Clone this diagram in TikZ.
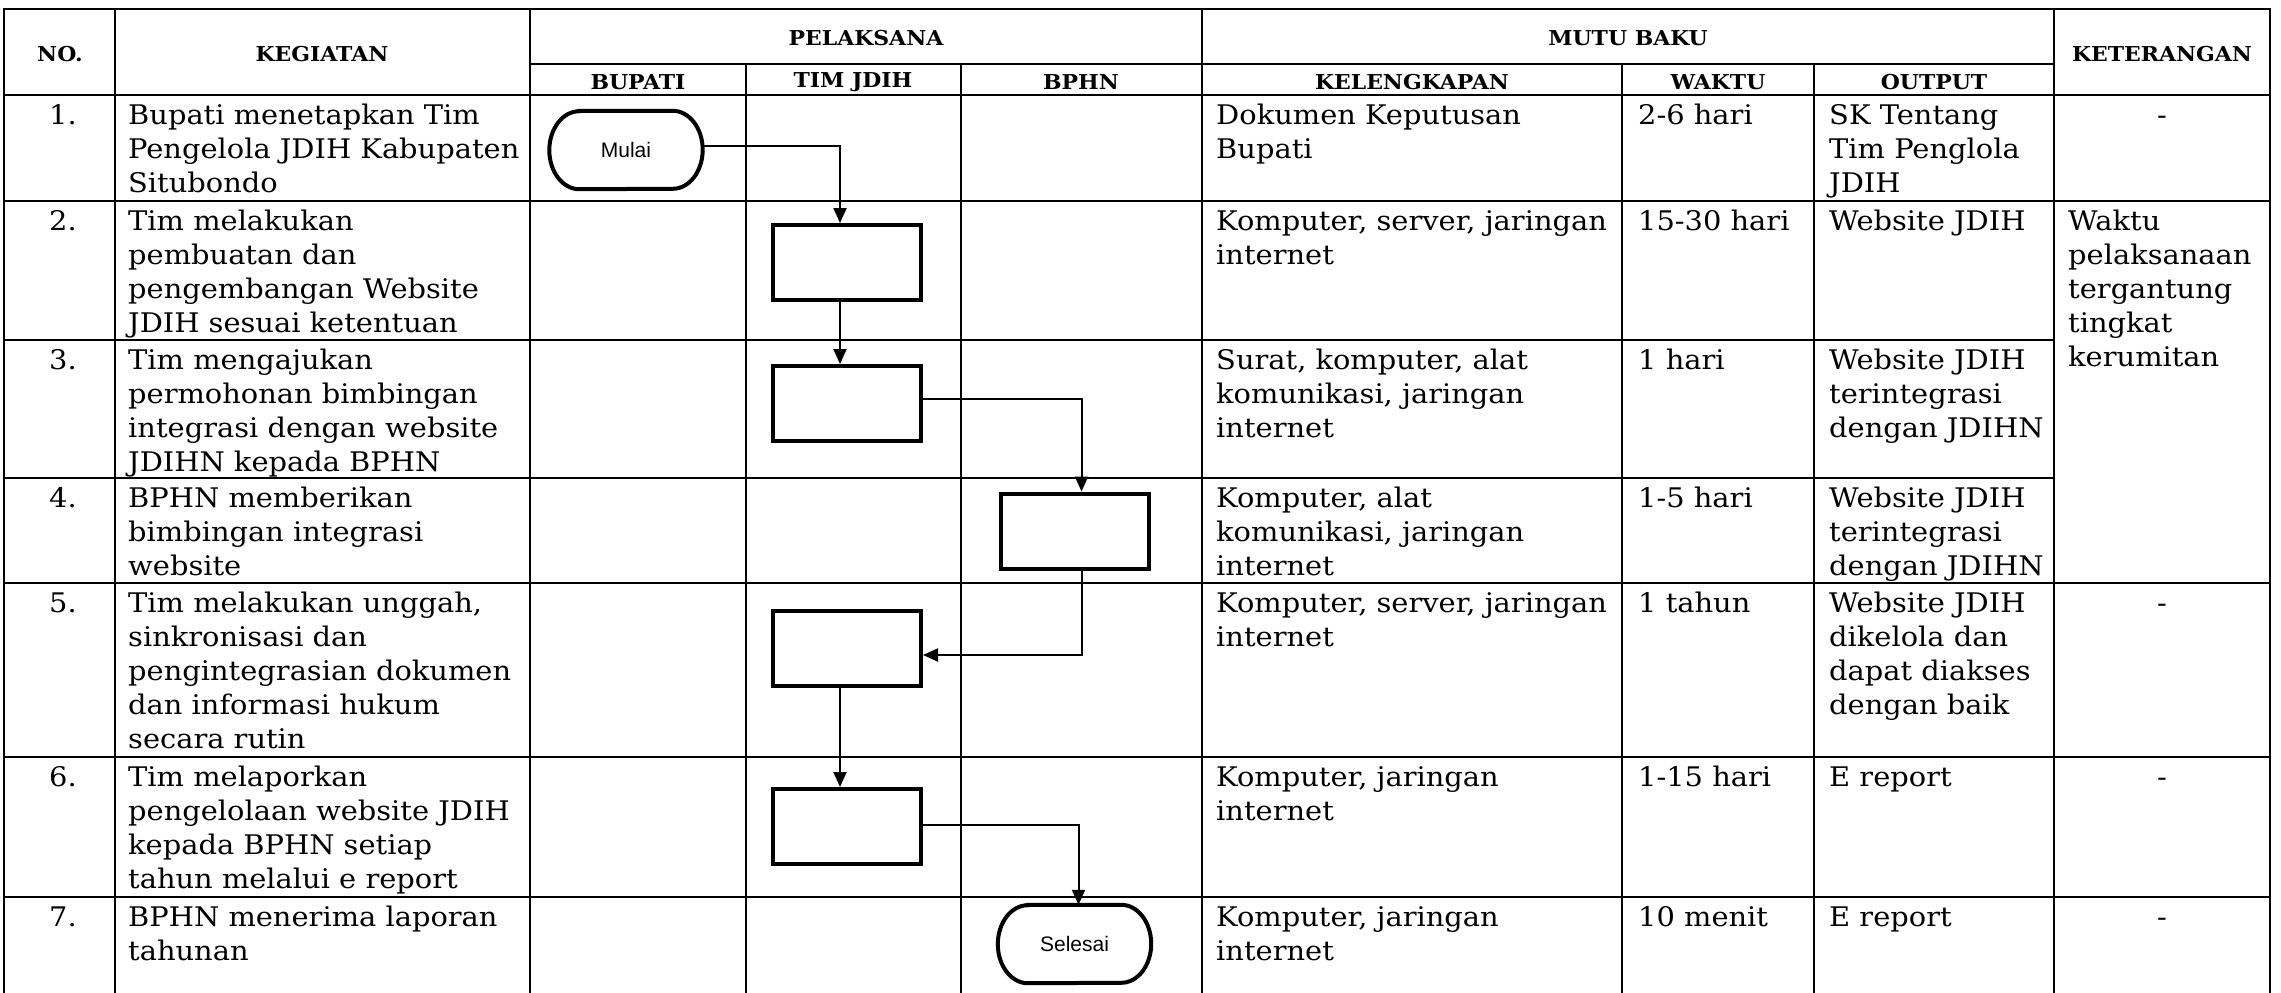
\documentclass[tikz,border=0pt]{standalone}
\usepackage{fontspec}
\setmainfont{DejaVu Serif}[FakeStretch=1.07]
\newfontfamily\flowsans{Liberation Sans}
\usetikzlibrary{arrows.meta}
\newcommand{\bodyfont}{\fontsize{27}{34}\selectfont}
\newcommand{\headfont}{\fontsize{20.5}{24}\selectfont\bfseries}
\newcommand{\firstln}{\rule{0pt}{22pt}}
\begin{document}
\begin{tikzpicture}[x=1pt,y=-1pt,
  grid/.style={line width=2.8pt, line cap=rect},
  cell/.style={anchor=north west, inner sep=0pt, align=left, font=\bodyfont},
  numcell/.style={anchor=north, inner sep=0pt, align=center, font=\bodyfont},
  head/.style={anchor=center, inner sep=0pt, font=\headfont},
  proc/.style={draw, line width=4pt, minimum width=148pt, minimum height=75pt, inner sep=0pt},
  term/.style={minimum width=153pt, minimum height=78pt, inner sep=0pt, font=\fontsize{21}{25}\selectfont\flowsans},
  termline/.style={line width=4pt},
  flow/.style={line width=2pt, -{Triangle[length=15pt,width=13pt]}}]
\fill[white] (0,0) rectangle (2281,993);
\useasboundingbox (0,0) rectangle (2281,993);

% grid: vertical
\draw[grid] (4,9) -- (4,993);
\draw[grid] (115,9) -- (115,993);
\draw[grid] (530,9) -- (530,993);
\draw[grid] (746,64) -- (746,993);
\draw[grid] (961,64) -- (961,993);
\draw[grid] (1202,9) -- (1202,993);
\draw[grid] (1622,64) -- (1622,993);
\draw[grid] (1814,64) -- (1814,993);
\draw[grid] (2054,9) -- (2054,993);
\draw[grid] (2270,9) -- (2270,993);
% grid: horizontal
\draw[grid] (4,9) -- (2270,9);
\draw[grid] (530,64) -- (2054,64);
\draw[grid] (4,95) -- (2270,95);
\draw[grid] (4,201) -- (2270,201);
\draw[grid] (4,340) -- (2054,340);
\draw[grid] (4,478) -- (2054,478);
\draw[grid] (4,583) -- (2270,583);
\draw[grid] (4,757) -- (2270,757);
\draw[grid] (4,897) -- (2270,897);

% headers
\node[head] (hNo) at (60,54) {NO.};
\node[head] (hKeg) at (322,54) {KEGIATAN};
\node[head] (hPel) at (866,38) {PELAKSANA};
\node[head] (hMutu) at (1628,38) {MUTU BAKU};
\node[head] (hKet) at (2162,54) {KETERANGAN};
\node[head] (hBup) at (638,82) {BUPATI};
\node[head] (hTim) at (853,82) {TIM JDIH};
\node[head] (hBphn) at (1081,82) {BPHN};
\node[head] (hKel) at (1412,82) {KELENGKAPAN};
\node[head] (hWak) at (1718,82) {WAKTU};
\node[head] (hOut) at (1934,82) {OUTPUT};

% row 1
\node[numcell] (n1) at (63,102) {\firstln 1.};
\node[cell] (k1) at (128,102) {\firstln Bupati menetapkan Tim\\Pengelola JDIH Kabupaten\\Situbondo};
\node[cell] (l1) at (1216,102) {\firstln Dokumen Keputusan\\Bupati};
\node[cell] (w1) at (1638,102) {\firstln 2-6 hari};
\node[cell] (o1) at (1829,102) {\firstln SK Tentang\\Tim Penglola\\JDIH};
\node[numcell] (ket1) at (2162,102) {\firstln -};
% row 2
\node[numcell] (n2) at (63,208) {\firstln 2.};
\node[cell] (k2) at (128,208) {\firstln Tim melakukan\\pembuatan dan\\pengembangan Website\\JDIH sesuai ketentuan};
\node[cell] (l2) at (1216,208) {\firstln Komputer, server, jaringan\\internet};
\node[cell] (w2) at (1638,208) {\firstln 15-30 hari};
\node[cell] (o2) at (1829,208) {\firstln Website JDIH};
\node[cell] (ket2) at (2068,208) {\firstln Waktu\\pelaksanaan\\tergantung\\tingkat\\kerumitan};
% row 3
\node[numcell] (n3) at (63,347) {\firstln 3.};
\node[cell] (k3) at (128,347) {\firstln Tim mengajukan\\permohonan bimbingan\\integrasi dengan website\\JDIHN kepada BPHN};
\node[cell] (l3) at (1216,347) {\firstln Surat, komputer, alat\\komunikasi, jaringan\\internet};
\node[cell] (w3) at (1638,347) {\firstln 1 hari};
\node[cell] (o3) at (1829,347) {\firstln Website JDIH\\terintegrasi\\dengan JDIHN};
% row 4
\node[numcell] (n4) at (63,485) {\firstln 4.};
\node[cell] (k4) at (128,485) {\firstln BPHN memberikan\\bimbingan integrasi\\website};
\node[cell] (l4) at (1216,485) {\firstln Komputer, alat\\komunikasi, jaringan\\internet};
\node[cell] (w4) at (1638,485) {\firstln 1-5 hari};
\node[cell] (o4) at (1829,485) {\firstln Website JDIH\\terintegrasi\\dengan JDIHN};
% row 5
\node[numcell] (n5) at (63,590) {\firstln 5.};
\node[cell] (k5) at (128,590) {\firstln Tim melakukan unggah,\\sinkronisasi dan\\pengintegrasian dokumen\\dan informasi hukum\\secara rutin};
\node[cell] (l5) at (1216,590) {\firstln Komputer, server, jaringan\\internet};
\node[cell] (w5) at (1638,590) {\firstln 1 tahun};
\node[cell] (o5) at (1829,590) {\firstln Website JDIH\\dikelola dan\\dapat diakses\\dengan baik};
\node[numcell] (ket5) at (2162,590) {\firstln -};
% row 6
\node[numcell] (n6) at (63,764) {\firstln 6.};
\node[cell] (k6) at (128,764) {\firstln Tim melaporkan\\pengelolaan website JDIH\\kepada BPHN setiap\\tahun melalui e report};
\node[cell] (l6) at (1216,764) {\firstln Komputer, jaringan\\internet};
\node[cell] (w6) at (1638,764) {\firstln 1-15 hari};
\node[cell] (o6) at (1829,764) {\firstln E report};
\node[numcell] (ket6) at (2162,764) {\firstln -};
% row 7
\node[numcell] (n7) at (63,904) {\firstln 7.};
\node[cell] (k7) at (128,904) {\firstln BPHN menerima laporan\\tahunan};
\node[cell] (l7) at (1216,904) {\firstln Komputer, jaringan\\internet};
\node[cell] (w7) at (1638,904) {\firstln 10 menit};
\node[cell] (o7) at (1829,904) {\firstln E report};
\node[numcell] (ket7) at (2162,904) {\firstln -};

% flowchart
\node[term] (mulai) at (626,150) {Mulai};
\draw[termline] ([xshift=30pt]mulai.north west) -- ([xshift=-30pt]mulai.north east)
  arc[start angle=90, end angle=-90, x radius=30pt, y radius=39pt]
  -- ([xshift=30pt]mulai.south west)
  arc[start angle=270, end angle=90, x radius=30pt, y radius=39pt] -- cycle;
\node[proc] (b2) at (847,262.5) {};
\node[proc] (b3) at (847,403.5) {};
\node[proc] (b4) at (1074.5,531) {};
\node[proc] (b5) at (847,648) {};
\node[proc] (b6) at (847,826.5) {};
\node[term] (selesai) at (1074.5,944) {Selesai};
\draw[termline] ([xshift=30pt]selesai.north west) -- ([xshift=-30pt]selesai.north east)
  arc[start angle=90, end angle=-90, x radius=30pt, y radius=39pt]
  -- ([xshift=30pt]selesai.south west)
  arc[start angle=270, end angle=90, x radius=30pt, y radius=39pt] -- cycle;

\draw[flow] ([yshift=4pt]mulai.east) -| ([xshift=-7pt]b2.north);
\draw[flow] ([xshift=-7pt]b2.south) -- ([xshift=-7pt]b3.north);
\draw[flow] ([yshift=5pt]b3.east) -| ([xshift=7pt]b4.north);
\draw[flow] ([xshift=7pt]b4.south) |- ([yshift=-7pt]b5.east);
\draw[flow] ([xshift=-7pt]b5.south) -- ([xshift=-7pt]b6.north);
\draw[flow] ([yshift=2pt]b6.east) -| ([xshift=4pt]selesai.north);
\end{tikzpicture}
\end{document}
